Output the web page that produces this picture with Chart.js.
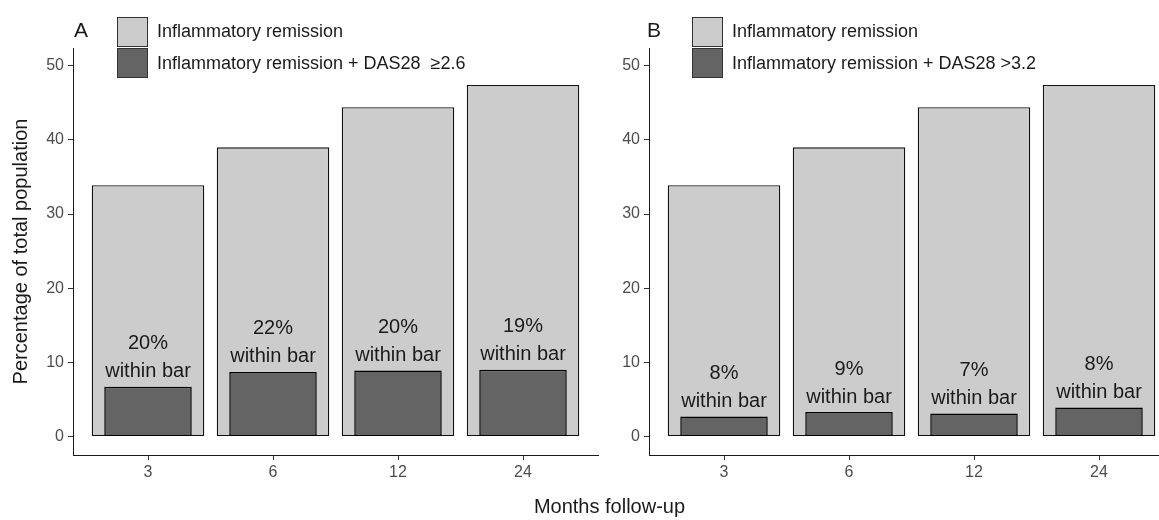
<!DOCTYPE html>
<html>
<head>
<meta charset="utf-8">
<script src="https://cdn.jsdelivr.net/npm/chart.js@4"></script>
<style>
    html, body { margin: 0; padding: 0; background: #fff; overflow: hidden; }
    body { width: 1159px; height: 520px; position: relative; font-family: "Liberation Sans", Arial, sans-serif; color: #1a1a1a; }
    canvas { position: absolute; top: 0; }
    #chartA { left: 0; }
    #chartB { left: 608px; }
    .tag { position: absolute; top: 19px; font-size: 21px; line-height: 1; }
    .legend { position: absolute; top: 16px; }
    .legend-row { display: flex; align-items: center; height: 31.5px; }
    .legend-box { width: 29px; height: 28px; border: 1.5px solid #333; box-sizing: content-box; }
    .legend-text { font-size: 18px; margin-left: 9px; white-space: pre; }
    #xtitle { position: absolute; top: 496px; left: 0; width: 1219px; text-align: center; font-size: 20px; line-height: 1; }
</style>
</head>
<body>
<canvas id="chartA" width="608" height="520"></canvas>
<canvas id="chartB" width="576" height="520"></canvas>
<div class="tag" style="left:74px">A</div>
<div class="tag" style="left:647px">B</div>
<div class="legend" id="legendA" style="left:117px"></div>
<div class="legend" id="legendB" style="left:692px"></div>
<div id="xtitle">Months follow-up</div>

<script>
    // Data
    const months = ['3', '6', '12', '24'];
    const yTicks = [0, 10, 20, 30, 40, 50];

    const remission = [33.9, 39.0, 44.4, 47.4];

    const das26 = [6.7, 8.7, 8.9, 9.0];
    const pctA = [20, 22, 20, 19];

    const das32 = [2.7, 3.3, 3.1, 3.9];
    const pctB = [8, 9, 7, 8];

    const lightColor = '#cccccc';
    const darkColor = '#646464';

    // Text like "20%\nwithin bar" just above the dark bar
    const withinBarLabels = {
        id: 'withinBarLabels',
        afterDatasetsDraw(chart, args, opts) {
            const { ctx, scales } = chart;
            ctx.save();
            ctx.fillStyle = '#1a1a1a';
            ctx.font = '20px "Liberation Sans", Arial, sans-serif';
            ctx.textAlign = 'center';
            ctx.textBaseline = 'middle';
            opts.values.forEach((v, i) => {
                const x = scales.x.getPixelForValue(i + 1);
                const y = scales.y.getPixelForValue(v);
                ctx.fillText(opts.pct[i] + '%', x, y - 43);
                ctx.fillText('within bar', x, y - 15);
            });
            ctx.restore();
        }
    };

    function makeChart(canvasId, darkValues, pct, darkLabel, axisWidth, showYTitle) {
        const ctx = document.getElementById(canvasId).getContext('2d');
        return new Chart(ctx, {
            type: 'bar',
            data: {
                datasets: [{
                    label: 'Inflammatory remission',
                    data: remission.map((v, i) => ({ x: i + 1, y: v })),
                    backgroundColor: lightColor,
                    borderColor: '#111',
                    borderWidth: 1.3,
                    borderSkipped: false,
                    grouped: false,
                    categoryPercentage: 1,
                    barPercentage: 0.9,
                    order: 1
                }, {
                    label: darkLabel,
                    data: darkValues.map((v, i) => ({ x: i + 1, y: v })),
                    backgroundColor: darkColor,
                    borderColor: '#000',
                    borderWidth: 1.5,
                    borderSkipped: false,
                    grouped: false,
                    categoryPercentage: 1,
                    barPercentage: 0.7,
                    order: 0
                }]
            },
            options: {
                responsive: false,
                animation: false,
                layout: { padding: { left: 0, right: 10, top: 48, bottom: 35 } },
                plugins: {
                    legend: { display: false },
                    tooltip: { enabled: false },
                    withinBarLabels: { values: darkValues, pct: pct }
                },
                scales: {
                    x: {
                        type: 'linear',
                        offset: false,
                        min: 0.4,
                        max: 4.6,
                        afterBuildTicks: (scale) => { scale.ticks = months.map((m, i) => ({ value: i + 1 })); },
                        afterFit: (scale) => { scale.height = 30; },
                        grid: { offset: false, drawOnChartArea: false, drawTicks: true, tickLength: 5, color: '#333' },
                        border: { display: true, color: '#1a1a1a', width: 1 },
                        ticks: {
                            color: '#4d4d4d',
                            font: { family: '"Liberation Sans", Arial, sans-serif', size: 16 },
                            padding: 3,
                            maxRotation: 0,
                            callback: (v) => months[Math.round(v) - 1]
                        }
                    },
                    y: {
                        min: -2.5,
                        max: 52.4,
                        afterBuildTicks: (scale) => { scale.ticks = yTicks.map(v => ({ value: v })); },
                        afterFit: (scale) => { scale.width = axisWidth; },
                        grid: { drawOnChartArea: false, drawTicks: true, tickLength: 5, color: '#333' },
                        border: { display: true, color: '#1a1a1a', width: 1 },
                        ticks: {
                            color: '#4d4d4d',
                            font: { family: '"Liberation Sans", Arial, sans-serif', size: 16 },
                            padding: 4
                        },
                        title: {
                            display: showYTitle,
                            text: 'Percentage of total population',
                            color: '#1a1a1a',
                            font: { family: '"Liberation Sans", Arial, sans-serif', size: 20 },
                            padding: { top: 9, bottom: 0 }
                        }
                    }
                }
            },
            plugins: [withinBarLabels]
        });
    }

    function buildLegend(elId, chart) {
        const el = document.getElementById(elId);
        chart.data.datasets.forEach(ds => {
            const row = document.createElement('div');
            row.className = 'legend-row';
            const box = document.createElement('div');
            box.className = 'legend-box';
            box.style.background = ds.backgroundColor;
            const txt = document.createElement('span');
            txt.className = 'legend-text';
            txt.textContent = ds.label;
            row.appendChild(box);
            row.appendChild(txt);
            el.appendChild(row);
        });
    }

    const chartA = makeChart('chartA', das26, pctA, 'Inflammatory remission + DAS28  \u22652.6', 73, true);
    const chartB = makeChart('chartB', das32, pctB, 'Inflammatory remission + DAS28 >3.2', 41, false);
    buildLegend('legendA', chartA);
    buildLegend('legendB', chartB);
</script>
</body>
</html>
